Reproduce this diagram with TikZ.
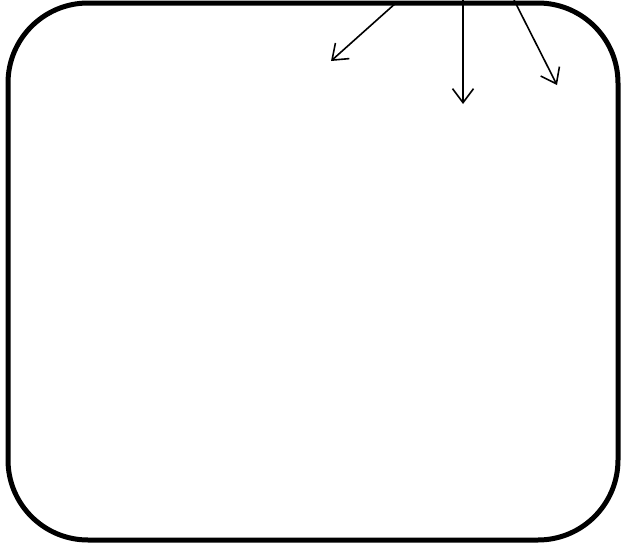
\documentclass[tikz,border=0pt]{standalone}
\usetikzlibrary{arrows.meta}
\begin{document}
\begin{tikzpicture}[x=1pt, y=-1pt,
  frame/.style={draw, line width=5pt, rounded corners=80pt, inner sep=0pt, minimum width=610pt, minimum height=537pt},
  ray/.style={line width=1.6pt, -{Straight Barb[length=14pt, width=21pt, line width=1.6pt]}}]
  \useasboundingbox (0,0) rectangle (625,544);
  \node[frame] (box) at (313,271.5) {};
  % rays entering from the top edge
  \coordinate (s1) at (397,2); \coordinate (e1) at (331,61);
  \coordinate (s2) at (463,0); \coordinate (e2) at (463,104);
  \coordinate (s3) at (514,0); \coordinate (e3) at (557,85);
  \draw[ray] (s1) -- (e1);
  \draw[ray] (s2) -- (e2);
  \draw[ray] (s3) -- (e3);
\end{tikzpicture}
\end{document}
